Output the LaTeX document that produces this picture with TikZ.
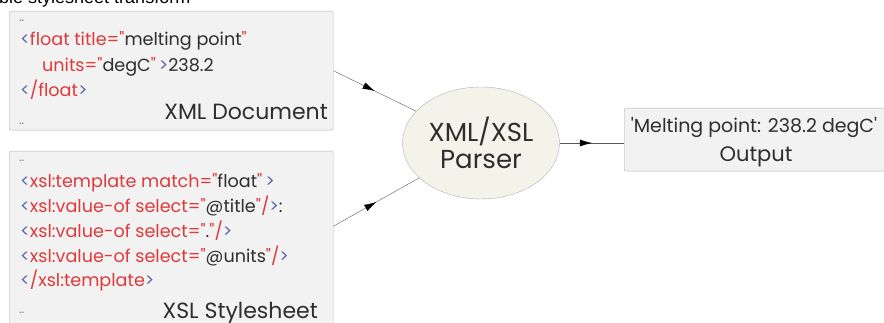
\documentclass[tikz,border=0pt]{standalone}
\usepackage{fontspec}
\setmainfont{Poppins}[Ligatures=TeXOff]
\newfontfamily\captionfont{Liberation Sans}
\usepackage{xcolor}
\usetikzlibrary{shapes.geometric, arrows.meta, positioning}
\usetikzlibrary{decorations.markings}
\definecolor{tagblue}{HTML}{5A68A6}
\definecolor{tagred}{HTML}{E0393B}
\definecolor{codeink}{HTML}{2E2E2E}
\definecolor{boxfill}{HTML}{F2F2F2}
\definecolor{boxline}{HTML}{B2B2B2}
\definecolor{parserfill}{HTML}{F3F3E9}
\newcommand{\tagb}[1]{\textcolor{tagblue}{#1}}
\newcommand{\tagr}[1]{\textcolor{tagred}{#1}}

\begin{document}
\begin{tikzpicture}[x=1pt, y=-1pt,
		docbox/.style={draw=boxline, fill=boxfill, rounded corners=2pt, inner sep=0pt, anchor=north west},
		codeline/.style={anchor=base west, inner sep=0pt, text=codeink, font=\fontsize{17.6}{20}\selectfont},
		boxdots/.style={anchor=base west, inner sep=0pt, text=black!55, font=\fontsize{12}{12}\selectfont},
		boxtitle/.style={anchor=base east, inner sep=0pt, text=codeink, font=\fontsize{22}{24}\selectfont},
		feed/.style={draw=black!65, postaction={decorate},
			decoration={markings, mark=at position 0.5 with {\arrow[black]{Latex[length=12pt, width=7pt]}}}}]
	\clip (0,0) rectangle (884,323);
	\node[anchor=base west, inner sep=0pt, font=\captionfont\fontsize{18}{20}\selectfont] (caption) at (-1,3.5) {ble stylesheet transform};
	% the two input files
	\node[docbox, minimum width=324pt, minimum height=119pt] (xmldoc) at (9,11) {};
	\node[boxdots] (xmldots1) at (19,22) {..};
	\node[codeline] (xmlline1) at (20,46) {\tagb{<}\tagr{float title="}melting point\tagr{"}};
	\node[codeline] (xmlline2) at (42,72) {\tagr{units="}degC\tagr{"}\,\tagb{>}238.2};
	\node[codeline] (xmlline3) at (20,97) {\tagb{<}\tagr{/float}\tagb{>}};
	\node[boxtitle] (xmltitle) at (328,120) {XML Document};
	\node[boxdots] (xmldots2) at (19,125) {..};
	\node[docbox, minimum width=324pt, minimum height=190pt] (xsldoc) at (9,151) {};
	\node[boxdots] (xsldots1) at (19,162) {..};
	\node[codeline] (xslline1) at (20,188) {\tagb{<}\tagr{xsl:template match="}float\tagr{"}\,\tagb{>}};
	\node[codeline] (xslline2) at (20,213) {\tagb{<}\tagr{xsl:value-of select="}@title\tagr{"/}\tagb{>}:};
	\node[codeline] (xslline3) at (20,238) {\tagb{<}\tagr{xsl:value-of select="}.\tagr{"/}\tagb{>}};
	\node[codeline] (xslline4) at (20,262) {\tagb{<}\tagr{xsl:value-of select="}@units\tagr{"/}\tagb{>}};
	\node[codeline] (xslline5) at (20,287) {\tagb{<}\tagr{/xsl:template}\tagb{>}};
	\node[boxtitle] (xsltitle) at (318,318) {XSL Stylesheet};
	\node[boxdots] (xsldots2) at (19,313) {..};
	% parser and result
	\node[ellipse, draw=boxline, fill=parserfill, minimum width=157pt, minimum height=112pt, inner sep=0pt,
		align=center, text=codeink, font=\fontsize{26}{27}\selectfont] (parser) at (481,143) {XML/XSL\\Parser};
	\node[docbox, minimum width=280pt, minimum height=63pt] (output) at (624,108) {};
	\node[anchor=base, inner sep=0pt, text=codeink, font=\fontsize{19}{20}\selectfont] (outline1) at (754,133) {'Melting point: 238.2 degC'};
	\node[anchor=base, inner sep=0pt, text=codeink, font=\fontsize{21}{24}\selectfont] (outline2) at (756,162) {Output};
	\draw[feed] (xmldoc.east) -- (parser);
	\draw[feed] ([yshift=20pt]xsldoc.east) -- (parser);
	\draw[feed] (parser.east) -- (parser.east -| output.west);
\end{tikzpicture}
\end{document}
